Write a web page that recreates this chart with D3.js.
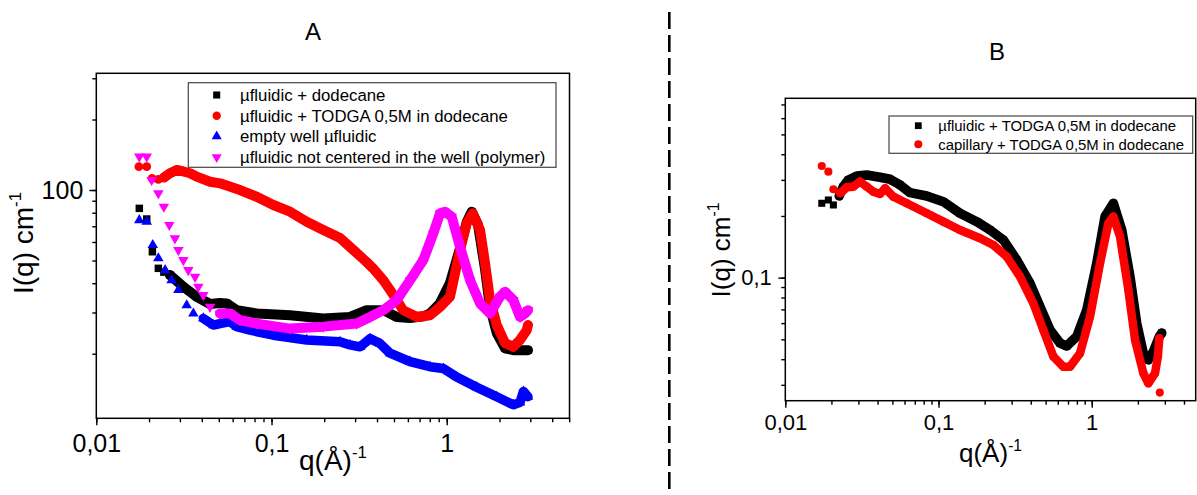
<!DOCTYPE html>
<html><head><meta charset="utf-8">
<script src="https://cdn.jsdelivr.net/npm/d3@7"></script>
<style>
body{margin:0;background:#fff}
svg{display:block}
text{font-family:"Liberation Sans",Arial,Helvetica,sans-serif;fill:#000}
</style>
</head><body>
<svg id="c" width="1197" height="495"></svg>
<script>
// ---------------- DATA ----------------
// Panel A
const A_dodecane_q = [0.0176,0.0194,0.0209,0.0226,0.0243,0.0263,0.0314,0.0374,0.0446,0.0508,0.0555,0.0633,0.0823,0.1275,0.1975,0.2806,0.3494,0.4347,0.5184,0.6173,0.7353,0.803,0.9158,1.044,1.191,1.301,1.389,1.509,1.654,1.767,1.93,2.152,2.4,2.62,2.91];
const A_dodecane_I = [83.5,75.2,54.5,46.3,44.6,43.4,38.6,35.0,32.6,32.9,32.8,30.7,29.7,29.2,28.3,28.7,30.7,30.7,28.7,28.4,28.9,29.7,32.9,40.1,56.5,73.0,80.8,70.9,46.0,31.5,24.5,21.1,20.7,20.7,20.7];

const A_todga_q = [0.0175,0.0194,0.0208,0.0226,0.0243,0.0263,0.0288,0.0314,0.0343,0.0374,0.0446,0.0508,0.0661,0.0823,0.1024,0.1275,0.1588,0.1975,0.246,0.3064,0.3494,0.3796,0.4347,0.4748,0.5184,0.5632,0.6768,0.803,0.9158,1.044,1.191,1.301,1.407,1.549,1.654,1.767,1.93,2.152,2.4,2.62,2.86,2.91];
const A_todga_I = [125.8,125.8,112.2,111.0,113.0,117.9,121.8,120.0,117.9,114.0,108.5,106.8,100.0,93.6,86.3,80.8,73.2,67.5,62.4,53.8,49.2,46.3,41.2,37.4,33.9,30.7,28.7,29.2,31.7,35.0,55.4,72.1,79.5,67.5,48.8,33.9,26.5,22.2,21.4,22.9,25.2,26.5];

const A_empty_q = [0.0176,0.0194,0.021,0.0226,0.0247,0.0269,0.0294,0.0328,0.0358,0.0408,0.0466,0.0508,0.058,0.0633,0.0754,0.1024,0.1588,0.246,0.2806,0.32,0.365,0.4162,0.4748,0.6173,0.803,0.9564,1.14,1.483,1.93,2.4,2.62,2.74,2.91];
const A_empty_I = [74.4,73.2,58.2,51.1,45.5,41.2,37.4,32.2,29.7,28.3,26.5,26.9,27.4,26.1,25.2,24.0,22.9,22.5,21.8,21.4,23.2,22.1,20.1,18.5,17.6,17.3,15.9,14.4,13.1,12.1,12.4,13.8,13.1];

const A_polymer_q = [0.0176,0.0194,0.0207,0.0226,0.0243,0.0261,0.0281,0.0294,0.0314,0.0335,0.0366,0.0382,0.0408,0.0446,0.0508,0.058,0.0661,0.0823,0.1275,0.1975,0.3064,0.365,0.4347,0.5184,0.6173,0.7353,0.8386,0.9158,0.978,1.068,1.191,1.359,1.549,1.767,2.015,2.152,2.4,2.62,2.8,2.91];
const A_polymer_I = [138.8,138.8,110.3,96.8,84.8,70.9,62.2,55.4,50.2,45.5,42.6,38.6,35.6,31.7,29.7,29.7,27.8,26.9,25.6,26.1,26.9,28.7,30.7,33.9,41.2,50.2,65.3,79.5,80.8,76.9,57.2,41.2,32.8,29.7,35.0,36.8,33.9,28.7,29.7,30.7];

// Panel B
const B_ufluidic_q = [0.0173,0.0191,0.0206,0.0225,0.0239,0.0258,0.0293,0.034,0.0415,0.0483,0.0561,0.0652,0.0838,0.1075,0.1381,0.1776,0.2169,0.2649,0.3238,0.3956,0.4597,0.5344,0.6211,0.6869,0.798,0.9277,1.078,1.221,1.384,1.57,1.778,1.966,2.172,2.342,2.524,2.762,2.864];
const B_ufluidic_I = [0.2306,0.2393,0.2263,0.2503,0.2779,0.2996,0.3134,0.317,0.309,0.302,0.2833,0.2598,0.2503,0.2348,0.2062,0.1876,0.1709,0.1527,0.122,0.0939,0.0722,0.0556,0.0479,0.0464,0.0516,0.0696,0.1176,0.1985,0.2306,0.1709,0.1011,0.0599,0.0428,0.0397,0.0436,0.0516,0.0537];

const B_capillary_q = [0.0173,0.0191,0.0206,0.0228,0.0252,0.0278,0.0307,0.034,0.0375,0.0415,0.0448,0.0507,0.062,0.0838,0.1075,0.1381,0.1866,0.2279,0.2788,0.3404,0.4157,0.4831,0.5616,0.6526,0.7219,0.8388,0.9748,1.133,1.284,1.384,1.53,1.734,1.917,2.172,2.342,2.59,2.70,2.76,2.78];
const B_capillary_I = [0.3507,0.329,0.27,0.2581,0.2761,0.2779,0.2939,0.2779,0.2628,0.256,0.273,0.2484,0.2306,0.2062,0.1876,0.1709,0.1557,0.1444,0.1266,0.1011,0.075,0.0556,0.0412,0.0368,0.0368,0.0428,0.0645,0.1176,0.1842,0.1985,0.1585,0.0871,0.0497,0.0342,0.0305,0.0342,0.0412,0.0506,0.0275];

// Labels
const A_legend = ["\u00b5fluidic + dodecane","\u00b5fluidic + TODGA 0,5M in dodecane","empty well \u00b5fluidic","\u00b5fluidic not centered in the well (polymer)"];
const B_legend = ["\u00b5fluidic + TODGA 0,5M in dodecane","capillary + TODGA 0,5M in dodecane"];
const xTickValues = [0.01,0.1,1];
const xTickLabels = ["0,01","0,1","1"];
const A_yTickValues = [100];
const A_yTickLabels = ["100"];
const B_yTickValues = [0.1];
const B_yTickLabels = ["0,1"];

// ---------------- DRAWING ----------------
const svg = d3.select("#c");

function superTitle(g, x, y, main, sup, size, rotate){
  const t = g.append("text").attr("text-anchor","middle").attr("font-size",size)
    .attr("transform", rotate ? `translate(${x},${y}) rotate(-90)` : `translate(${x},${y})`);
  t.append("tspan").text(main);
  t.append("tspan").attr("font-size",size*0.6).attr("dy",-size*0.42).text(sup);
}

function panel(cfg){
  const g = svg.append("g");
  const x = d3.scaleLog().domain(cfg.xDomain).range(cfg.xRange);
  const y = d3.scaleLog().domain(cfg.yDomain).range(cfg.yRange);
  const [x0,x1] = cfg.xRange, [y0,y1] = cfg.yRange;

  // minor ticks
  const gx1 = g.append("g").attr("transform",`translate(0,${y0})`)
    .call(d3.axisBottom(x).tickValues(x.ticks()).tickSize(4).tickFormat(""));
  gx1.select(".domain").remove();
  const gy1 = g.append("g").attr("transform",`translate(${x0},0)`)
    .call(d3.axisLeft(y).tickValues(y.ticks()).tickSize(4).tickFormat(""));
  gy1.select(".domain").remove();
  // major ticks with labels
  const gx = g.append("g").attr("transform",`translate(0,${y0})`)
    .call(d3.axisBottom(x).tickValues(xTickValues).tickSize(7).tickPadding(cfg.xPad)
      .tickFormat((d,i)=>xTickLabels[i]));
  gx.select(".domain").remove();
  gx.selectAll("text").attr("font-size",cfg.tickFont).attr("font-family",null).attr("fill","#000");
  const gy = g.append("g").attr("transform",`translate(${x0},0)`)
    .call(d3.axisLeft(y).tickValues(cfg.yTickValues).tickSize(7).tickPadding(cfg.yPad)
      .tickFormat((d,i)=>cfg.yTickLabels[i]));
  gy.select(".domain").remove();
  gy.selectAll("text").attr("font-size",cfg.tickFont).attr("font-family",null).attr("fill","#000");
  g.selectAll(".tick line").attr("stroke","#000").attr("stroke-width",1.4);

  // frame
  g.append("rect").attr("x",x0).attr("y",y1).attr("width",x1-x0).attr("height",y0-y1)
    .attr("fill","none").attr("stroke","#000").attr("stroke-width",1.5);

  // series
  cfg.series.forEach(s=>{
    const pts = s.q.map((q,i)=>({q:q, I:s.I[i]}));
    const dense = pts.filter(p=>p.q>=s.denseFrom && p.q<=s.denseTo);
    g.append("path").datum(dense)
      .attr("d", d3.line().x(d=>x(d.q)).y(d=>y(d.I)))
      .attr("fill","none").attr("stroke",s.color).attr("stroke-width",s.band)
      .attr("stroke-linejoin","round").attr("stroke-linecap","round");
    g.append("g").selectAll("path").data(pts).join("path")
      .attr("transform",d=>`translate(${x(d.q)},${y(d.I)})${s.down?" rotate(180)":""}`)
      .attr("d", d3.symbol(s.shape, s.size)())
      .attr("fill", s.color);
  });

  // legend
  const L = cfg.legend;
  g.append("rect").attr("x",L.x).attr("y",L.y).attr("width",L.w).attr("height",L.h)
    .attr("fill","#fff").attr("stroke","#444").attr("stroke-width",1.2);
  cfg.series.forEach((s,i)=>{
    const cy = L.row0 + i*L.rowStep;
    g.append("path").attr("transform",`translate(${L.symX},${cy})${s.down?" rotate(180)":""}`)
      .attr("d", d3.symbol(s.shape, s.legSize)()).attr("fill", s.color);
    g.append("text").attr("x",L.textX).attr("y",cy).attr("dy","0.35em")
      .attr("font-size",L.font).attr("fill","#111").text(cfg.legendLabels[i]);
  });

  // axis titles
  superTitle(g, (x0+x1)/2, cfg.xTitleY, "q(\u00c5)", "-1", cfg.titleFont, false);
  superTitle(g, cfg.yTitleX, cfg.yTitleY, "I(q) cm", "-1", cfg.titleFont, true);
  // panel letter
  g.append("text").attr("x",cfg.letter.x).attr("y",cfg.letter.y).attr("text-anchor","middle")
    .attr("font-size",24).text(cfg.letter.t);
}

panel({
  xDomain:[0.01,5.02], xRange:[96.3,569.5],
  yDomain:[10.6,315], yRange:[418.3,73.3],
  xPad:9, yPad:6, tickFont:25,
  yTickValues:A_yTickValues, yTickLabels:A_yTickLabels,
  xTitleY:470, yTitleX:33, yTitleY:243, titleFont:28,
  letter:{x:313,y:40,t:"A"},
  legendLabels:A_legend,
  legend:{x:188.3,y:82.7,w:367.7,h:84.6,row0:95,rowStep:20.7,symX:216.7,textX:240,font:16.8},
  series:[
    {q:A_dodecane_q, I:A_dodecane_I, color:"#000000", shape:d3.symbolSquare, size:56, legSize:50, band:10, denseFrom:0.026, denseTo:10},
    {q:A_todga_q, I:A_todga_I, color:"#ff0000", shape:d3.symbolCircle, size:60, legSize:55, band:10, denseFrom:0.024, denseTo:10},
    {q:A_empty_q, I:A_empty_I, color:"#0000ff", shape:d3.symbolTriangle, size:48, legSize:44, band:9.5, denseFrom:0.04, denseTo:10},
    {q:A_polymer_q, I:A_polymer_I, color:"#ff00ff", shape:d3.symbolTriangle, size:48, legSize:44, band:10, denseFrom:0.045, denseTo:10, down:true}
  ]
});

panel({
  xDomain:[0.01,4.77], xRange:[785.3,1195.7],
  yDomain:[0.0251,0.75], yRange:[400.7,98.3],
  xPad:7, yPad:6.5, tickFont:22,
  yTickValues:B_yTickValues, yTickLabels:B_yTickLabels,
  xTitleY:462, yTitleX:730, yTitleY:250, titleFont:26,
  letter:{x:997,y:60,t:"B"},
  legendLabels:B_legend,
  legend:{x:889,y:116,w:303.7,h:37.3,row0:125.7,rowStep:18.6,symX:918.3,textX:938.3,font:14.9},
  series:[
    {q:B_ufluidic_q, I:B_ufluidic_I, color:"#000000", shape:d3.symbolSquare, size:50, legSize:46, band:9.5, denseFrom:0.022, denseTo:10},
    {q:B_capillary_q, I:B_capillary_I, color:"#ff0000", shape:d3.symbolCircle, size:52, legSize:50, band:8.5, denseFrom:0.0225, denseTo:2.77}
  ]
});

// dashed divider
svg.append("line").attr("x1",669.3).attr("x2",669.3).attr("y1",12).attr("y2",495)
  .attr("stroke","#000").attr("stroke-width",2.6).attr("stroke-dasharray","17,6");
</script>
</body></html>
